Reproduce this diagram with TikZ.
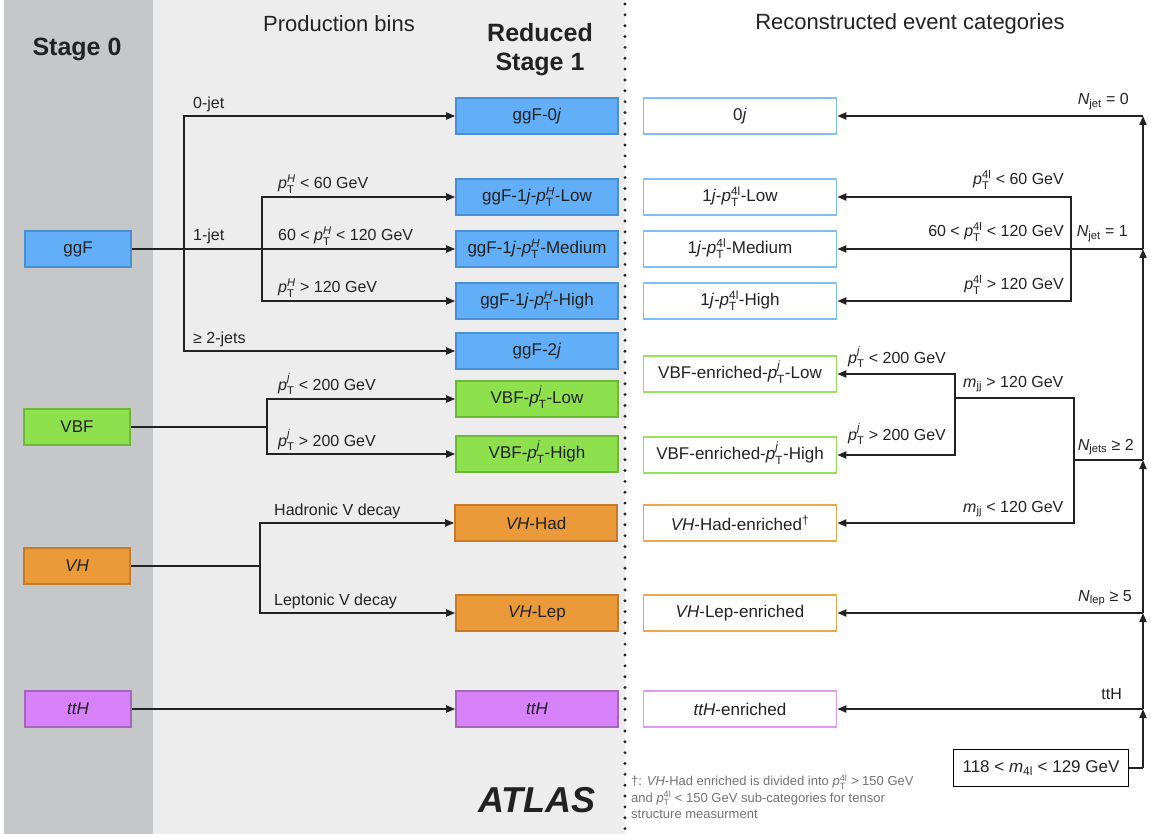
\documentclass[tikz,border=0pt]{standalone}
\usepackage{amsmath}
\usepackage{fontspec}
\setmainfont{Liberation Sans}
\usepackage{tikz}
\usetikzlibrary{arrows.meta}

\definecolor{stagegray}{HTML}{C6C7C9}
\definecolor{bingray}{HTML}{EDEDED}
\definecolor{textdark}{HTML}{222222}
\definecolor{ggffill}{HTML}{62AFF8}
\definecolor{ggfdraw}{HTML}{4A8FD6}
\definecolor{ggfline}{HTML}{7CBFFA}
\definecolor{vbffill}{HTML}{8EE04C}
\definecolor{vbfdraw}{HTML}{6DB83A}
\definecolor{vbfline}{HTML}{98E35C}
\definecolor{vhfill}{HTML}{EA9A38}
\definecolor{vhdraw}{HTML}{C77A2A}
\definecolor{vhline}{HTML}{F0A748}
\definecolor{tthfill}{HTML}{D782F8}
\definecolor{tthdraw}{HTML}{A466BE}
\definecolor{tthline}{HTML}{E09AF8}

\newcommand{\pT}[1]{\textit{p}\smash{$_{\text{T}}^{\text{#1}}$}}
\newcommand{\vsub}[2]{\textit{#1}$_{\text{#2}}$}

\begin{document}
\begin{tikzpicture}[x=1pt, y=-1pt,
	anybox/.style={draw, line width=1.6pt, minimum height=36pt, inner sep=0pt, text=textdark, font=\fontsize{17}{20}\selectfont},
	stagebox/.style={anybox, minimum width=106pt},
	binbox/.style={anybox, minimum width=162pt},
	catbox/.style={anybox, minimum width=193pt, fill=white},
	ggf/.style={fill=ggffill, draw=ggfdraw},
	vbf/.style={fill=vbffill, draw=vbfdraw},
	vh/.style={fill=vhfill, draw=vhdraw},
	tth/.style={fill=tthfill, draw=tthdraw},
	lbl/.style={inner sep=0pt, text=textdark, font=\fontsize{16}{19}\selectfont},
	head/.style={inner sep=0pt, text=textdark, font=\fontsize{22}{26}\selectfont},
	headbold/.style={inner sep=0pt, text=textdark, font=\fontsize{25}{29}\selectfont\bfseries},
	conn/.style={line width=1.8pt, draw=textdark},
	arr/.style={conn, -{Triangle[length=9pt,width=7pt]}},
	dotline/.style={line width=3.2pt, line cap=round, dash pattern=on 0pt off 10.85pt, draw=textdark}]
	
	\useasboundingbox (0,0) rectangle (1151,834);
	\fill[white] (0,0) rectangle (1151,834);
	\fill[stagegray] (4,0) rectangle (153,834);
	\fill[bingray] (153,0) rectangle (625,834);
	\draw[dotline] (625,4) -- (625,834);
	
	% column titles
	\node[headbold] (stage0) at (77,49) {Stage 0};
	\node[head] (prodbins) at (339,24) {Production bins};
	\node[headbold, align=center] (stage1) at (540,50) {Reduced\\Stage 1};
	\node[head] (recocats) at (910,24) {Reconstructed event categories};
	
	% stage 0
	\node[stagebox, ggf] (ggF) at (78, 249) {ggF};
	\node[stagebox, vbf] (VBF) at (77, 427) {VBF};
	\node[stagebox, vh]  (VH)  at (77, 566) {\textit{VH}};
	\node[stagebox, tth] (ttH) at (78, 709) {\textit{ttH}};
	
	% reduced stage 1
	\node[binbox, ggf] (ggF0j)     at (537, 116) {ggF-0\textit{j}};
	\node[binbox, ggf] (ggF1jlow)  at (537, 197) {ggF-1\textit{j}-\pT{\textit{H}}-Low};
	\node[binbox, ggf] (ggF1jmed)  at (537, 249) {ggF-1\textit{j}-\pT{\textit{H}}-Medium};
	\node[binbox, ggf] (ggF1jhigh) at (537, 301) {ggF-1\textit{j}-\pT{\textit{H}}-High};
	\node[binbox, ggf] (ggF2j)     at (537, 351) {ggF-2\textit{j}};
	\node[binbox, vbf] (VBFlow)    at (537, 399) {VBF-\pT{\textit{j}}-Low};
	\node[binbox, vbf] (VBFhigh)   at (537, 454) {VBF-\pT{\textit{j}}-High};
	\node[binbox, vh]  (VHhad)     at (536, 523) {\textit{VH}-Had};
	\node[binbox, vh]  (VHlep)     at (537, 613) {\textit{VH}-Lep};
	\node[binbox, tth] (ttHbin)    at (537, 709) {\textit{ttH}};
	
	% reconstructed categories
	\node[catbox, draw=ggfline] (cat0j)      at (740, 116) {0\textit{j}};
	\node[catbox, draw=ggfline] (cat1jlow)   at (740, 197) {1\textit{j}-\pT{4l}-Low};
	\node[catbox, draw=ggfline] (cat1jmed)   at (740, 249) {1\textit{j}-\pT{4l}-Medium};
	\node[catbox, draw=ggfline] (cat1jhigh)  at (740, 301) {1\textit{j}-\pT{4l}-High};
	\node[catbox, draw=vbfline] (catVBFlow)  at (740, 374) {VBF-enriched-\pT{\textit{j}}-Low};
	\node[catbox, draw=vbfline] (catVBFhigh) at (740, 455) {VBF-enriched-\pT{\textit{j}}-High};
	\node[catbox, draw=vhline]  (catVHhad)   at (740, 523) {\textit{VH}-Had-enriched\textsuperscript{†}};
	\node[catbox, draw=vhline]  (catVHlep)   at (740, 613) {\textit{VH}-Lep-enriched};
	\node[catbox, draw=tthline] (catttH)     at (740, 709) {\textit{ttH}-enriched};
	\node[anybox, draw=black, fill=white, minimum width=175pt, minimum height=37pt] (mass) at (1041, 768) {118 < \vsub{m}{4l} < 129 GeV};
	
	% production splitting
	\coordinate (ggFsplit) at (184, 249);
	\coordinate (ptsplit)  at (262, 249);
	\coordinate (VBFsplit) at (267, 427);
	\coordinate (VHsplit)  at (260, 566);
	
	\draw[arr] (ggF) -- (ggF1jmed);
	\draw[arr] (ggFsplit) |- (ggF0j);
	\draw[arr] (ggFsplit) |- (ggF2j);
	\draw[arr] (ptsplit) |- (ggF1jlow);
	\draw[arr] (ptsplit) |- (ggF1jhigh);
	\draw[conn] (VBF) -- (VBFsplit);
	\draw[arr] (VBFsplit) |- (VBFlow);
	\draw[arr] (VBFsplit) |- (VBFhigh);
	\draw[conn] (VH) -- (VHsplit);
	\draw[arr] (VHsplit) |- (VHhad);
	\draw[arr] (VHsplit) |- (VHlep);
	\draw[arr] (ttH) -- (ttHbin);
	
	\node[lbl, anchor=base west] (l0jet)   at (193, 109) {0-jet};
	\node[lbl, anchor=base west] (l1jet)   at (193, 241) {1-jet};
	\node[lbl, anchor=base west] (l2jet)   at (193, 343) {≥ 2-jets};
	\node[lbl, anchor=base west] (lpthlow) at (278, 189) {\pT{\textit{H}} < 60 GeV};
	\node[lbl, anchor=base west] (lpthmed) at (278, 241) {60 < \pT{\textit{H}} < 120 GeV};
	\node[lbl, anchor=base west] (lpthhi)  at (278, 293) {\pT{\textit{H}} > 120 GeV};
	\node[lbl, anchor=base west] (lptjlow) at (278, 390) {\pT{\textit{j}} < 200 GeV};
	\node[lbl, anchor=base west] (lptjhi)  at (278, 446) {\pT{\textit{j}} > 200 GeV};
	\node[lbl, anchor=base west] (lhad)    at (274, 515) {Hadronic V decay};
	\node[lbl, anchor=base west] (llep)    at (274, 605) {Leptonic V decay};
	
	% event selection
	\coordinate (massout)  at (1143, 768);
	\coordinate (jttH)     at (1143, 709);
	\coordinate (jlep)     at (1143, 613);
	\coordinate (jjets)    at (1143, 460);
	\coordinate (jone)     at (1143, 249);
	\coordinate (jzero)    at (1143, 116);
	\coordinate (ptfour)   at (1071, 249);
	\coordinate (mjjsplit) at (1074, 460);
	\coordinate (mjjhigh)  at (955, 398);
	
	\draw[conn] (mass) -- (massout);
	\draw[arr] (massout) -- (jttH);
	\draw[arr] (jttH) -- (jlep);
	\draw[arr] (jlep) -- (jjets);
	\draw[arr] (jjets) -- (jone);
	\draw[arr] (jone) -- (jzero);
	\draw[arr] (jzero) -- (cat0j);
	\draw[arr] (jone) -- (cat1jmed);
	\draw[arr] (ptfour) |- (cat1jlow);
	\draw[arr] (ptfour) |- (cat1jhigh);
	\draw[conn] (jjets) -- (mjjsplit);
	\draw[conn] (mjjsplit) |- (mjjhigh);
	\draw[arr] (mjjsplit) |- (catVHhad);
	\draw[arr] (mjjhigh) |- (catVBFlow);
	\draw[arr] (mjjhigh) |- (catVBFhigh);
	\draw[arr] (jlep) -- (catVHlep);
	\draw[arr] (jttH) -- (catttH);
	
	\node[lbl, anchor=base east] (lnjet0)  at (1129, 105) {\vsub{N}{jet} = 0};
	\node[lbl, anchor=base east] (lp4low)  at (1064, 185) {\pT{4l} < 60 GeV};
	\node[lbl, anchor=base east] (lp4med)  at (1064, 237) {60 < \pT{4l} < 120 GeV};
	\node[lbl, anchor=base east] (lnjet1)  at (1128, 237) {\vsub{N}{jet} = 1};
	\node[lbl, anchor=base east] (lp4hi)   at (1064, 290) {\pT{4l} > 120 GeV};
	\node[lbl, anchor=base west] (lpjlow)  at (848, 363) {\pT{\textit{j}} < 200 GeV};
	\node[lbl, anchor=base west] (lmjjhi)  at (963, 387) {\vsub{m}{jj} > 120 GeV};
	\node[lbl, anchor=base west] (lpjhi)   at (848, 440) {\pT{\textit{j}} > 200 GeV};
	\node[lbl, anchor=base east] (lnjets)  at (1134, 450) {\vsub{N}{jets} ≥ 2};
	\node[lbl, anchor=base west] (lmjjlow) at (963, 512) {\vsub{m}{jj} < 120 GeV};
	\node[lbl, anchor=base east] (lnlep)   at (1132, 601) {\vsub{N}{lep} ≥ 5};
	\node[lbl, anchor=base east] (lttH)    at (1122, 699) {ttH};
	
	\node[inner sep=0pt, text=textdark, font=\fontsize{36}{40}\selectfont\bfseries\itshape] (atlas) at (537, 800) {ATLAS};
	\node[inner sep=0pt, anchor=north west, align=left, text=black!55, font=\fontsize{13}{16.5}\selectfont] (fnote) at (631, 776) {†: \textit{VH}-Had enriched is divided into \pT{4l} > 150 GeV\\and \pT{4l} < 150 GeV sub-categories for tensor\\structure measurment};
	
\end{tikzpicture}
\end{document}
